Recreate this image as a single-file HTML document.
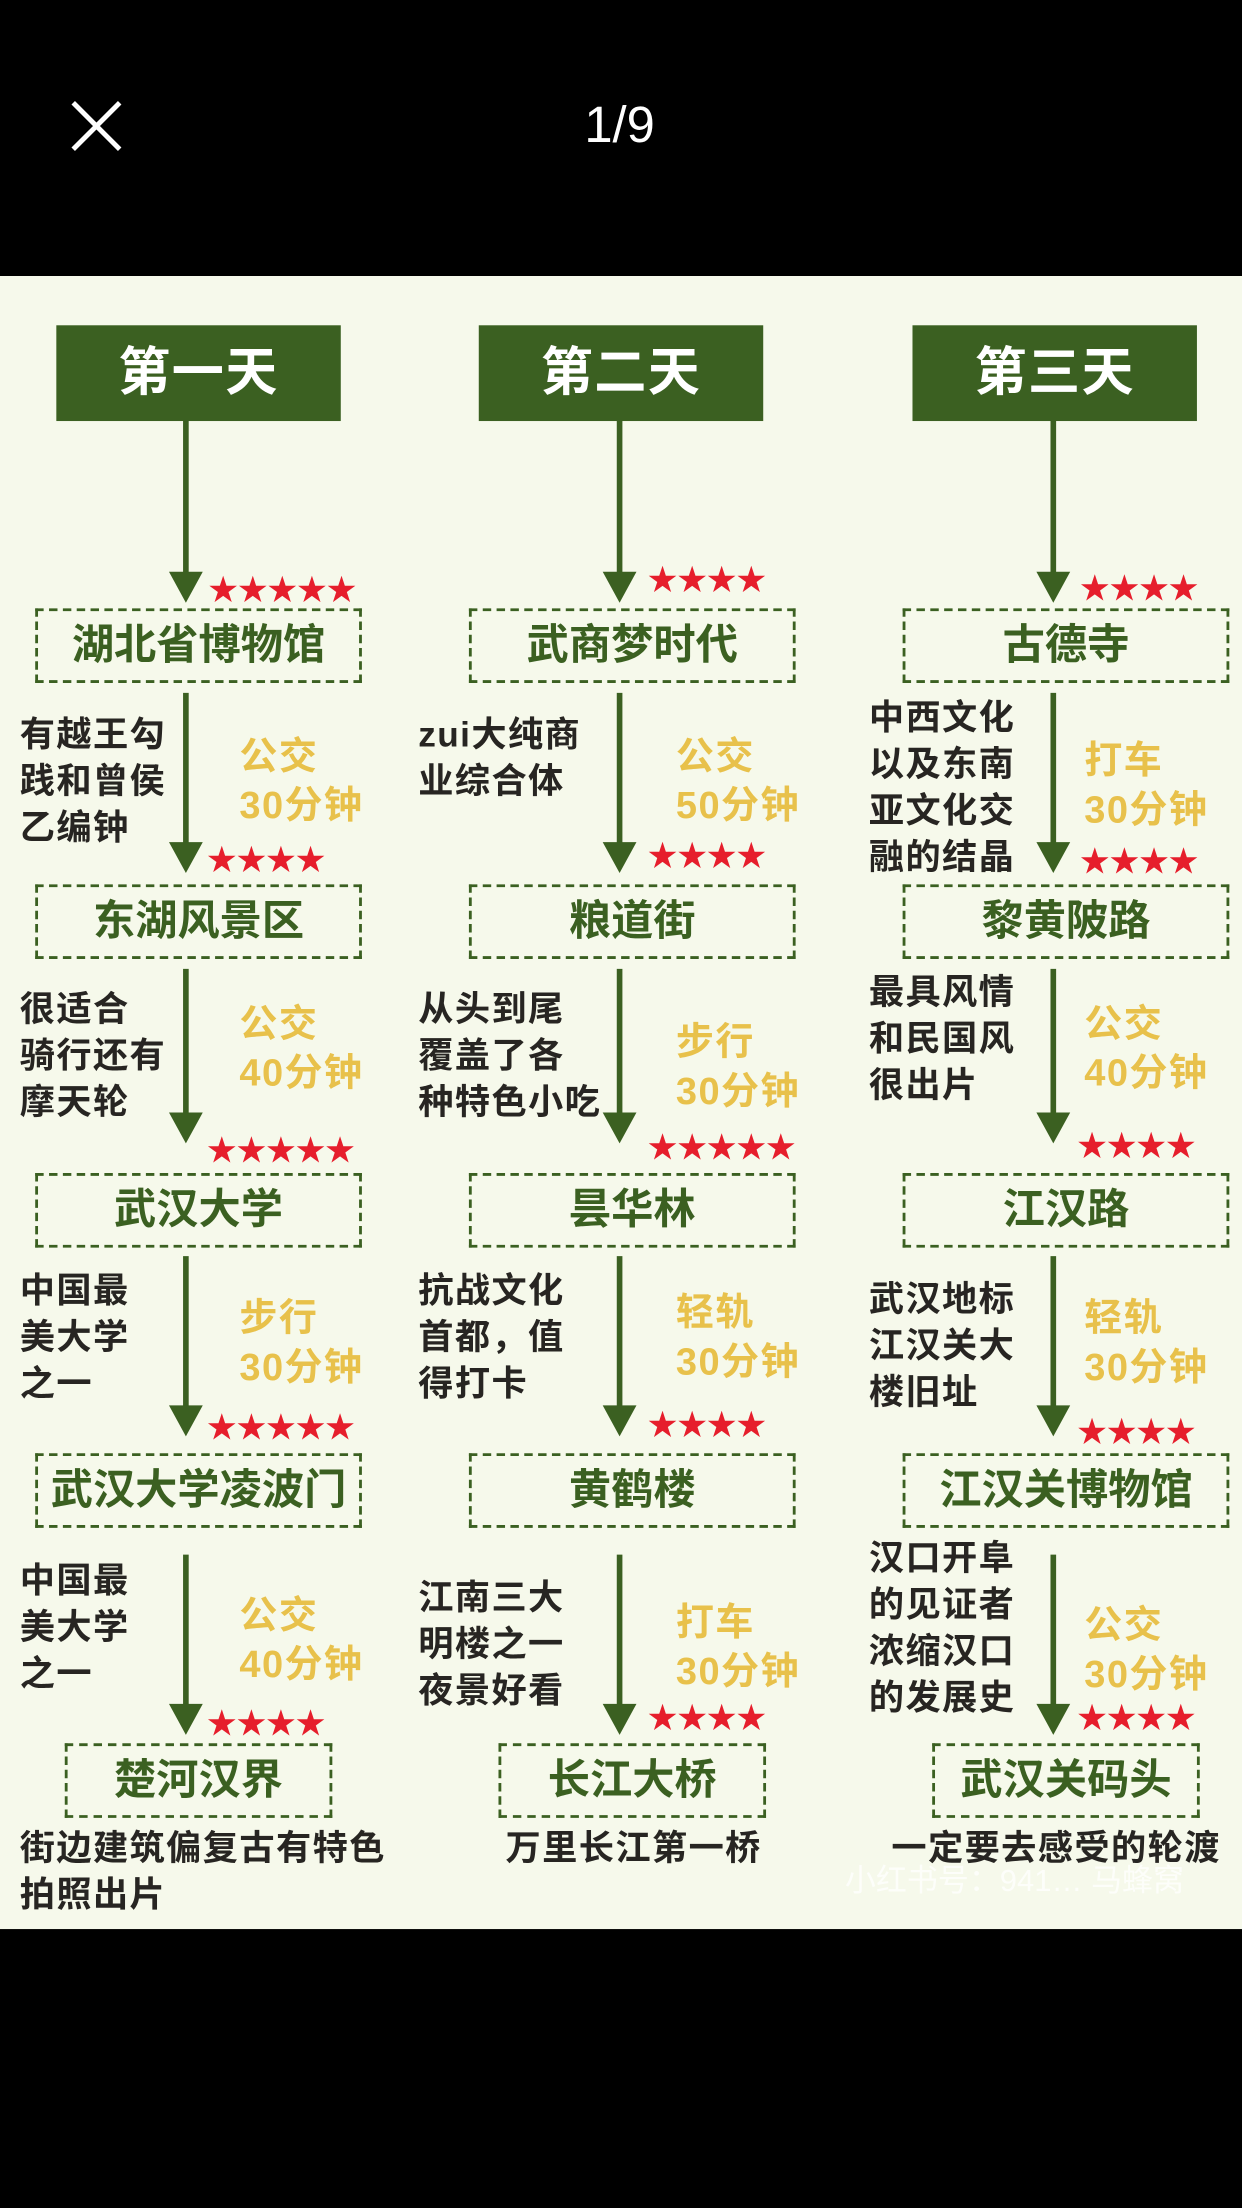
<!DOCTYPE html>
<html><head><meta charset="utf-8"><style>
html,body{margin:0;padding:0;background:#000;}
body{width:1242px;height:2208px;overflow:hidden;position:relative;}
#w{position:absolute;left:0;top:0;width:882px;height:1568px;transform:scale(1.40816);transform-origin:0 0;font-family:"Liberation Sans","Noto Sans CJK SC",sans-serif;}
#bg{position:absolute;left:0;top:196px;width:882px;height:1174px;background:#f6f9eb;}
.h{position:absolute;width:202px;height:68px;top:231px;background:#3b6021;color:#fff;font-weight:bold;font-size:37px;line-height:68px;text-align:center;letter-spacing:1px;}
.b{position:absolute;height:49px;border:2.5px dashed #3b6021;color:#3b6021;font-weight:bold;font-size:30px;line-height:49px;text-align:center;}
.d{position:absolute;color:#272522;font-weight:bold;font-size:25px;line-height:33px;letter-spacing:1px;white-space:nowrap;}
.t{position:absolute;color:#e8c14b;font-weight:bold;font-size:27px;line-height:35px;letter-spacing:1px;white-space:nowrap;}
.s{position:absolute;color:#e61e2c;font-size:21px;line-height:20px;letter-spacing:0px;}
</style></head><body><div id="w">
<div style="position:absolute;left:0;top:0;width:882px;height:196px;background:#000"></div>
<svg style="position:absolute;left:0;top:0" width="882" height="196"><path d="M52 73 L85 106 M85 73 L52 106" stroke="#fff" stroke-width="3.5"/></svg>
<div style="position:absolute;left:390px;top:68px;width:100px;text-align:center;color:#fff;font-size:36px;line-height:42px">1/9</div>
<div id="bg"></div>
<svg style="position:absolute;left:0;top:0" width="882" height="1568">
<g stroke="#3b6021" stroke-width="4" fill="none">
<path d="M132 299V408M440 299V408M748 299V408"/>
<path d="M132 492V600M440 492V600M748 492V600"/>
<path d="M132 688V792M440 688V792M748 688V792"/>
<path d="M132 892V1000M440 892V1000M748 892V1000"/>
<path d="M132 1104V1212M440 1104V1212M748 1104V1212"/>
</g>
<g fill="#3b6021">
<path d="M120 406h24l-12 22zM428 406h24l-12 22zM736 406h24l-12 22z"/>
<path d="M120 598h24l-12 22zM428 598h24l-12 22zM736 598h24l-12 22z"/>
<path d="M120 790h24l-12 22zM428 790h24l-12 22zM736 790h24l-12 22z"/>
<path d="M120 998h24l-12 22zM428 998h24l-12 22zM736 998h24l-12 22z"/>
<path d="M120 1210h24l-12 22zM428 1210h24l-12 22zM736 1210h24l-12 22z"/>
</g></svg>
<div class="h" style="left:40px">第一天</div>
<div class="h" style="left:340px">第二天</div>
<div class="h" style="left:648px">第三天</div>

<div class="s" style="left:148px;top:410px">★★★★★</div>
<div class="s" style="left:460px;top:403px">★★★★</div>
<div class="s" style="left:767px;top:409px">★★★★</div>
<div class="b" style="left:25px;top:432px;width:228px">湖北省博物馆</div>
<div class="b" style="left:333px;top:432px;width:228px">武商梦时代</div>
<div class="b" style="left:641px;top:432px;width:228px">古德寺</div>
<div class="d" style="left:14px;top:506px">有越王勾<br>践和曾侯<br>乙编钟</div>
<div class="t" style="left:170px;top:520px">公交<br>30分钟</div>
<div class="d" style="left:297px;top:506px">zui大纯商<br>业综合体</div>
<div class="t" style="left:480px;top:520px">公交<br>50分钟</div>
<div class="d" style="left:617px;top:494px">中西文化<br>以及东南<br>亚文化交<br>融的结晶</div>
<div class="t" style="left:770px;top:523px">打车<br>30分钟</div>

<div class="s" style="left:147px;top:602px">★★★★</div>
<div class="s" style="left:460px;top:599px">★★★★</div>
<div class="s" style="left:767px;top:603px">★★★★</div>
<div class="b" style="left:25px;top:628px;width:228px">东湖风景区</div>
<div class="b" style="left:333px;top:628px;width:228px">粮道街</div>
<div class="b" style="left:641px;top:628px;width:228px">黎黄陂路</div>
<div class="d" style="left:14px;top:701px">很适合<br>骑行还有<br>摩天轮</div>
<div class="t" style="left:170px;top:710px">公交<br>40分钟</div>
<div class="d" style="left:297px;top:701px">从头到尾<br>覆盖了各<br>种特色小吃</div>
<div class="t" style="left:480px;top:723px">步行<br>30分钟</div>
<div class="d" style="left:617px;top:689px">最具风情<br>和民国风<br>很出片</div>
<div class="t" style="left:770px;top:710px">公交<br>40分钟</div>

<div class="s" style="left:147px;top:808px">★★★★★</div>
<div class="s" style="left:460px;top:806px">★★★★★</div>
<div class="s" style="left:765px;top:805px">★★★★</div>
<div class="b" style="left:25px;top:833px;width:228px">武汉大学</div>
<div class="b" style="left:333px;top:833px;width:228px">昙华林</div>
<div class="b" style="left:641px;top:833px;width:228px">江汉路</div>
<div class="d" style="left:14px;top:901px">中国最<br>美大学<br>之一</div>
<div class="t" style="left:170px;top:919px">步行<br>30分钟</div>
<div class="d" style="left:297px;top:901px">抗战文化<br>首都，值<br>得打卡</div>
<div class="t" style="left:480px;top:915px">轻轨<br>30分钟</div>
<div class="d" style="left:617px;top:907px">武汉地标<br>江汉关大<br>楼旧址</div>
<div class="t" style="left:770px;top:919px">轻轨<br>30分钟</div>

<div class="s" style="left:147px;top:1005px">★★★★★</div>
<div class="s" style="left:460px;top:1003px">★★★★</div>
<div class="s" style="left:765px;top:1008px">★★★★</div>
<div class="b" style="left:25px;top:1032px;width:228px">武汉大学凌波门</div>
<div class="b" style="left:333px;top:1032px;width:228px">黄鹤楼</div>
<div class="b" style="left:641px;top:1032px;width:228px">江汉关博物馆</div>
<div class="d" style="left:14px;top:1107px">中国最<br>美大学<br>之一</div>
<div class="t" style="left:170px;top:1130px">公交<br>40分钟</div>
<div class="d" style="left:297px;top:1119px">江南三大<br>明楼之一<br>夜景好看</div>
<div class="t" style="left:480px;top:1135px">打车<br>30分钟</div>
<div class="d" style="left:617px;top:1091px">汉口开阜<br>的见证者<br>浓缩汉口<br>的发展史</div>
<div class="t" style="left:770px;top:1137px">公交<br>30分钟</div>

<div class="s" style="left:147px;top:1215px">★★★★</div>
<div class="s" style="left:460px;top:1211px">★★★★</div>
<div class="s" style="left:765px;top:1211px">★★★★</div>
<div class="b" style="left:46px;top:1238px;width:186px">楚河汉界</div>
<div class="b" style="left:354px;top:1238px;width:186px">长江大桥</div>
<div class="b" style="left:662px;top:1238px;width:186px">武汉关码头</div>
<div class="d" style="left:14px;top:1297px">街边建筑偏复古有特色<br>拍照出片</div>
<div class="d" style="left:300px;top:1297px;width:300px;text-align:center">万里长江第一桥</div>
<div class="d" style="left:620px;top:1297px;width:260px;text-align:center">一定要去感受的轮渡</div>
<div style="position:absolute;left:600px;top:1318px;color:rgba(255,255,255,0.75);font-size:22px;white-space:nowrap">小红书号：941… 马蜂窝</div>
<div style="position:absolute;left:0;top:1370px;width:882px;height:198px;background:#000"></div>
</div></body></html>
